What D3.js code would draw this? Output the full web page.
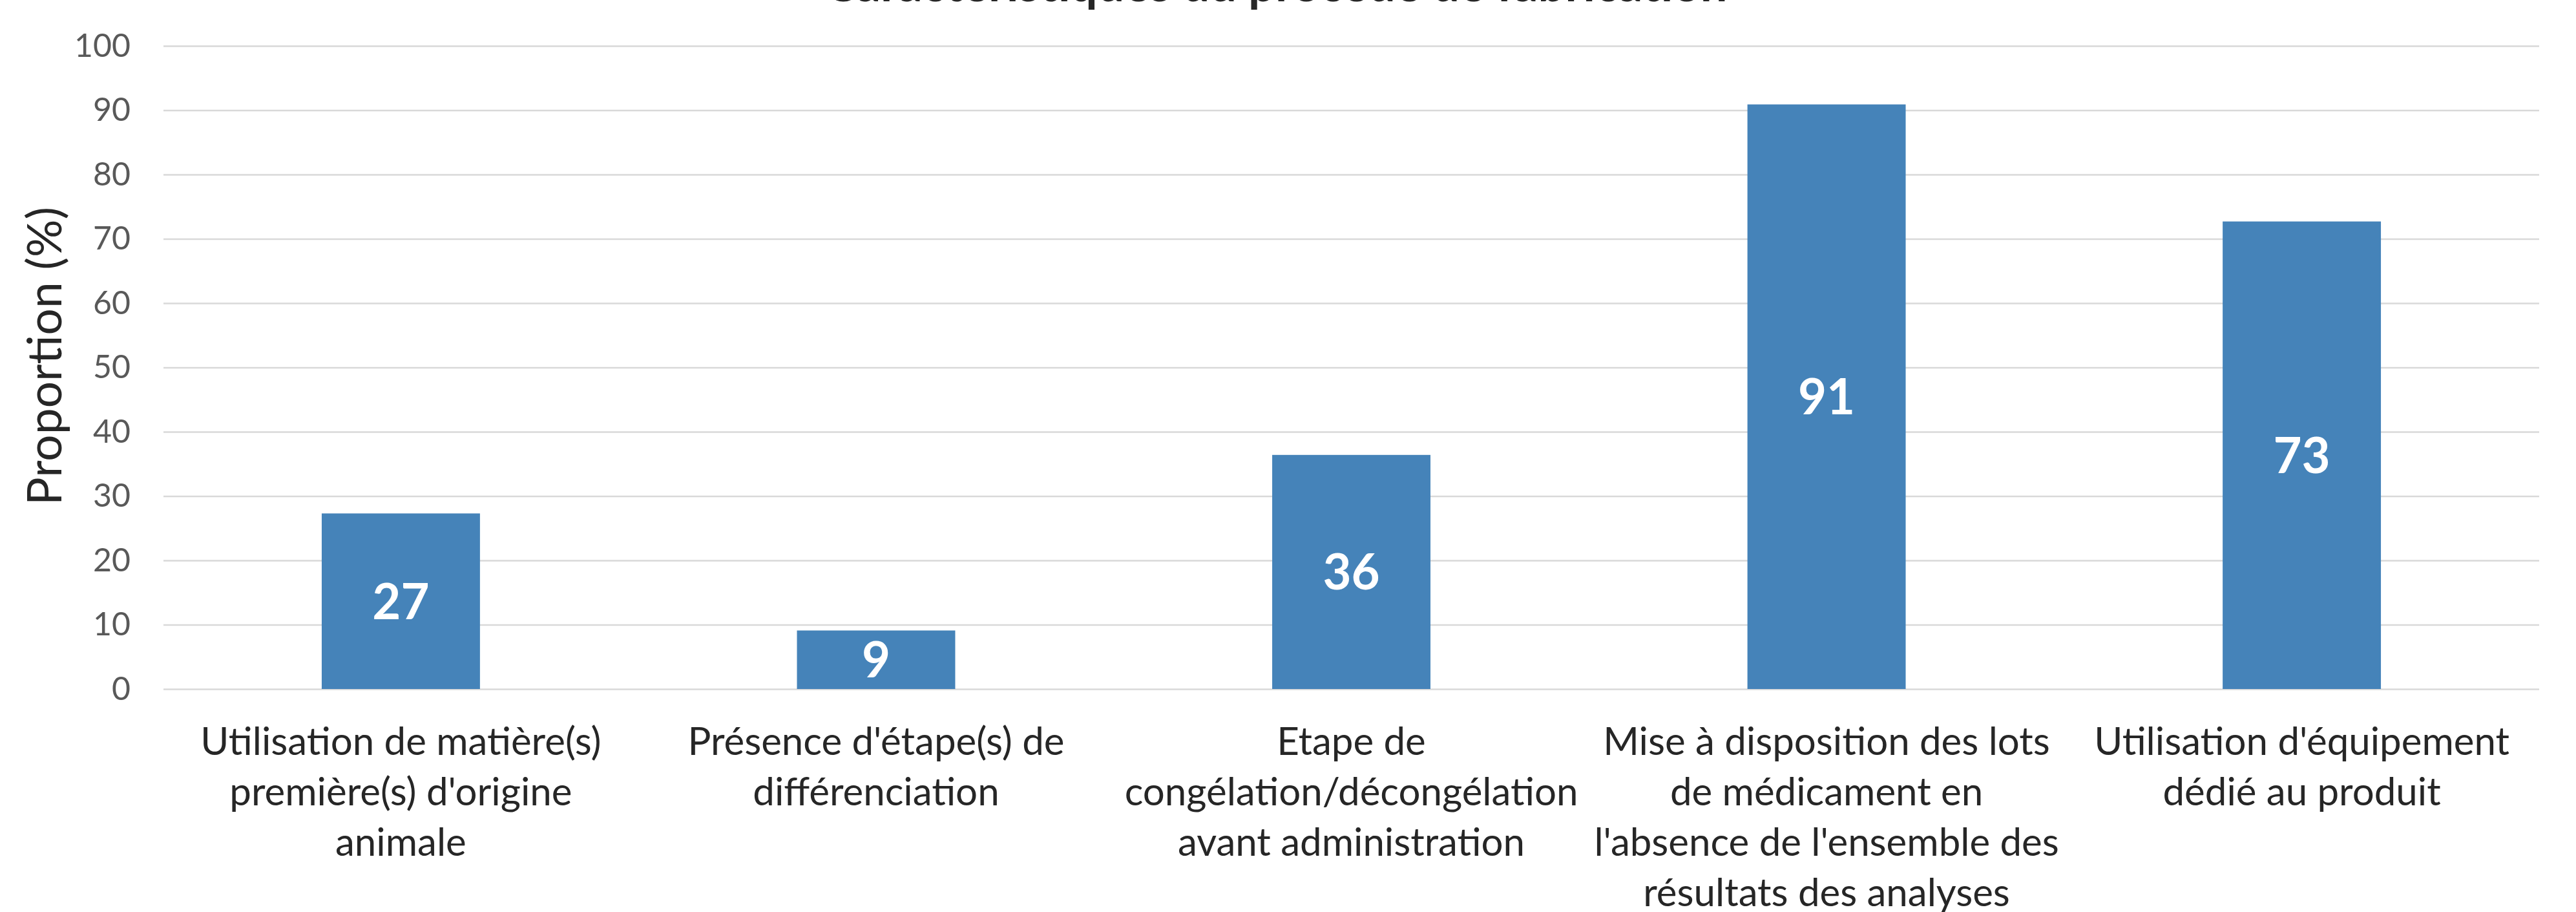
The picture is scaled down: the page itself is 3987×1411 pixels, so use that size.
<!DOCTYPE html>
<html lang="fr">
<head>
  <meta charset="UTF-8">
  <script src="https://d3js.org/d3.v7.min.js"></script>
  <style>
    body {
      margin: 0;
      padding: 0;
      background: #fff;
      overflow: hidden;
      font-family: Lato, "Noto Sans", sans-serif;
    }

    .grid line {
      stroke: #d9d9d9;
      stroke-width: 2.5px;
    }

    .grid text {
      fill: #595959;
      font-size: 50px;
    }

    .cat-label {
      fill: #262626;
      font-size: 60px;
    }

    .value-label {
      fill: #fff;
      font-size: 76px;
      font-weight: bold;
    }
  </style>
</head>
<body>
  <div id="chart"></div>

  <script>
    // data
    const categories = [
      "Utilisation de matière(s)\npremière(s) d'origine\nanimale",
      "Présence d'étape(s) de\ndifférenciation",
      "Etape de\ncongélation/décongélation\navant administration",
      "Mise à disposition des lots\nde médicament en\nl'absence de l'ensemble des\nrésultats des analyses",
      "Utilisation d'équipement\ndédié au produit"
    ];
    const values = [27.3, 9.1, 36.4, 90.9, 72.7];
    const valueLabels = ["27", "9", "36", "91", "73"];
    const yTicks = [0, 10, 20, 30, 40, 50, 60, 70, 80, 90, 100];
    const chartTitle = "Caractéristiques du procédé de fabrication";
    const yTitle = "Proportion (%)";

    const width = 3987, height = 1411;
    const margin = { top: 71, right: 57, bottom: 345, left: 253 };
    const plotW = width - margin.left - margin.right;
    const plotH = height - margin.top - margin.bottom;

    const svg = d3.select("#chart")
      .append("svg")
      .attr("width", width)
      .attr("height", height);

    const g = svg.append("g")
      .attr("transform", `translate(${margin.left},${margin.top})`);

    const x = d3.scaleBand()
      .domain(d3.range(categories.length))
      .range([0, plotW])
      .paddingInner(0.667)
      .paddingOuter(0.333);

    const y = d3.scaleLinear()
      .domain([0, 100])
      .range([plotH, 0]);

    // gridlines + tick labels
    g.append("g")
      .attr("class", "grid")
      .call(d3.axisLeft(y)
        .tickValues(yTicks)
        .tickSizeInner(-plotW)
        .tickSizeOuter(0)
        .tickPadding(51))
      .call(a => a.select(".domain").remove())
      .call(a => a.selectAll("text").attr("font-family", "Lato, sans-serif"));

    // bars
    g.selectAll("rect.bar")
      .data(values)
      .enter()
      .append("rect")
      .attr("class", "bar")
      .attr("x", (d, i) => x(i))
      .attr("y", d => y(d))
      .attr("width", x.bandwidth())
      .attr("height", d => y(0) - y(d))
      .attr("fill", "#4583b9");

    // value labels, centred in the bar
    g.selectAll("text.value-label")
      .data(values)
      .enter()
      .append("text")
      .attr("class", "value-label")
      .attr("x", (d, i) => x(i) + x.bandwidth() / 2)
      .attr("y", d => (y(d) + y(0)) / 2)
      .attr("dy", "0.36em")
      .attr("text-anchor", "middle")
      .text((d, i) => valueLabels[i]);

    // category labels
    const cat = g.selectAll("text.cat-label")
      .data(categories)
      .enter()
      .append("text")
      .attr("class", "cat-label")
      .attr("text-anchor", "middle")
      .attr("transform", (d, i) => `translate(${x(i) + x.bandwidth() / 2},${plotH + 102})`);

    cat.selectAll("tspan")
      .data(d => d.split("\n"))
      .enter()
      .append("tspan")
      .attr("x", 0)
      .attr("y", (d, i) => i * 78)
      .text(d => d);

    // y axis title
    svg.append("text")
      .attr("transform", `translate(95,551) rotate(-90)`)
      .attr("text-anchor", "middle")
      .attr("fill", "#262626")
      .attr("font-size", 73)
      .text(yTitle);

    // chart title (clipped at the top, as in the reference)
    svg.append("text")
      .attr("x", 1975)
      .attr("y", 2)
      .attr("text-anchor", "middle")
      .attr("fill", "#262626")
      .attr("font-size", 74)
      .attr("font-weight", "bold")
      .text(chartTitle);
  </script>
</body>
</html>
